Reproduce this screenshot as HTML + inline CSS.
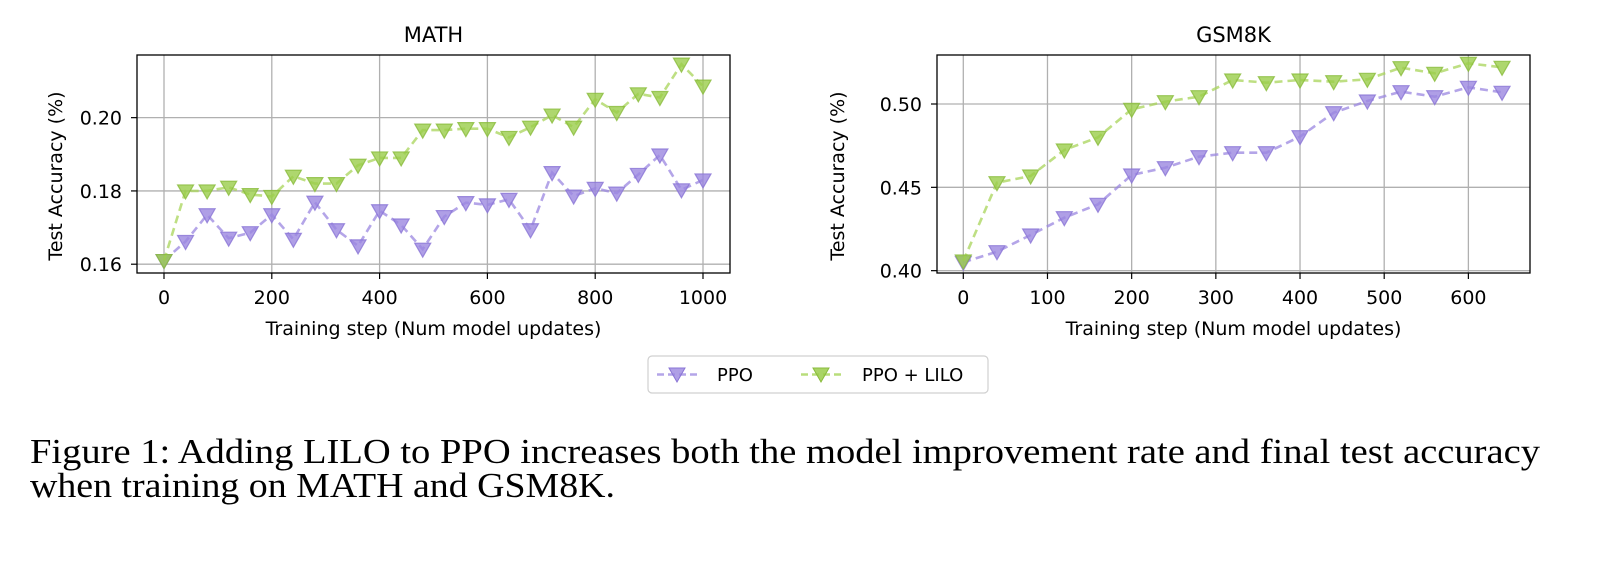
<!DOCTYPE html>
<html><head><meta charset="utf-8"><style>
html,body{margin:0;padding:0;background:#fff;}
svg{display:block;}
</style></head><body>
<svg id="fig" width="1600" height="562" viewBox="0 0 1600 562" xmlns="http://www.w3.org/2000/svg">
<g id="chart-math"></g>
<g id="chart-gsm"></g>
<g>
<rect x="648" y="356" width="340" height="37" rx="4" fill="#fff" stroke="#d0d0d0" stroke-width="1.2"/>
<g>
<line x1="657" y1="374.5" x2="697" y2="374.5" stroke="#9b87e0" stroke-opacity="0.75" stroke-width="2.5" stroke-dasharray="7,4"/>
<path d="M669,368 L685,368 L677,382 Z" fill="#9b87e0" fill-opacity="0.8" stroke="#8a74d6"/>
<text x="717" y="381" font-family="DejaVu Sans, Liberation Sans, sans-serif" font-size="18">PPO</text>
</g>
<g>
<line x1="801" y1="374.5" x2="841" y2="374.5" stroke="#a8d45a" stroke-opacity="0.8" stroke-width="2.5" stroke-dasharray="7,4"/>
<path d="M813,368 L829,368 L821,382 Z" fill="#9acd4a" fill-opacity="0.85" stroke="#8abb3c"/>
<text x="862" y="381" font-family="DejaVu Sans, Liberation Sans, sans-serif" font-size="18">PPO + LILO</text>
</g>
</g>
<g style="font-family:'Liberation Serif', serif" font-size="35">
<text x="30" y="463" textLength="1510" lengthAdjust="spacingAndGlyphs">Figure 1: Adding LILO to PPO increases both the model improvement rate and final test accuracy</text>
<text x="30" y="497" textLength="585" lengthAdjust="spacingAndGlyphs">when training on MATH and GSM8K.</text>
</g>
</svg>
<script>
const NS="http://www.w3.org/2000/svg";
// MATH data
const mathSteps=[0,40,80,120,160,200,240,280,320,360,400,440,480,520,560,600,640,680,720,760,800,840,880,920,960,1000];
const mathPPO=[0.161,0.1662,0.1735,0.1671,0.1686,0.1735,0.1668,0.1769,0.1694,0.165,0.1746,0.1707,0.1641,0.173,0.1768,0.1762,0.1777,0.1694,0.185,0.1786,0.1807,0.1794,0.1845,0.1898,0.1803,0.183];
const mathLILO=[0.161,0.180,0.180,0.181,0.179,0.1785,0.184,0.182,0.182,0.187,0.189,0.189,0.1966,0.1966,0.197,0.197,0.1946,0.1974,0.2007,0.1974,0.205,0.2014,0.2065,0.2055,0.2146,0.2086];
const mathXTicks=[0,200,400,600,800,1000];
const mathYTicks=[0.16,0.18,0.20];
// GSM8K data
const gsmSteps=[0,40,80,120,160,200,240,280,320,360,400,440,480,520,560,600,640];
const gsmPPO=[0.405,0.4114,0.4214,0.4318,0.4398,0.4574,0.4618,0.4684,0.4708,0.4708,0.4804,0.4948,0.5018,0.5074,0.5044,0.510,0.507];
const gsmLILO=[0.4058,0.4528,0.4568,0.4724,0.480,0.4968,0.5014,0.5044,0.5144,0.5128,0.5144,0.5134,0.5148,0.5218,0.5184,0.5244,0.522];
const gsmXTicks=[0,100,200,300,400,500,600];
const gsmYTicks=[0.40,0.45,0.50];

function el(tag,attrs,parent){const e=document.createElementNS(NS,tag);for(const k in attrs)e.setAttribute(k,attrs[k]);parent.appendChild(e);return e;}
const FONT="DejaVu Sans, Liberation Sans, sans-serif";

function drawChart(g,o){
  const X=v=>o.left+(v-o.xmin)/(o.xmax-o.xmin)*(o.right-o.left);
  const Y=v=>o.bottom-(v-o.ymin)/(o.ymax-o.ymin)*(o.bottom-o.top);
  o.xticks.forEach(t=>{
    const l=el('line',{x1:X(t),x2:X(t),y1:o.top,y2:o.bottom,stroke:'#b0b0b0','stroke-width':1.3},g);
    
    
    el('line',{x1:X(t),x2:X(t),y1:o.bottom,y2:o.bottom+6,stroke:'#000','stroke-width':1.2},g);
    const tx=el('text',{x:X(t),y:o.bottom+31,'text-anchor':'middle','font-family':FONT,'font-size':19},g);
    tx.textContent=String(t);
    
    
  });
  o.yticks.forEach(t=>{
    const l=el('line',{x1:o.left,x2:o.right,y1:Y(t),y2:Y(t),stroke:'#b0b0b0','stroke-width':1.3},g);
    
    
    el('line',{x1:o.left-6,x2:o.left,y1:Y(t),y2:Y(t),stroke:'#000','stroke-width':1.2},g);
    const tx=el('text',{x:o.left-15,y:Y(t)+7,'text-anchor':'end','font-family':FONT,'font-size':19},g);
    tx.textContent=t.toFixed(2);
    
    
  });
  function series(xs,ys,line,fill,edge,name){
    const sg=el('g',{},g);
    
    
    const pts=xs.map((x,i)=>X(x)+','+Y(ys[i])).join(' ');
    el('polyline',{points:pts,fill:'none',stroke:line,'stroke-opacity':0.75,'stroke-width':2.6,'stroke-dasharray':'8,5'},sg);
    xs.forEach((x,i)=>{
      const cx=X(x),cy=Y(ys[i]);
      const m=el('path',{d:`M${cx-8},${cy-6} L${cx+8},${cy-6} L${cx},${cy+8} Z`,fill:fill,'fill-opacity':0.8,stroke:edge,'stroke-opacity':0.8,'stroke-width':1.2},sg);
      
      
    });
  }
  series(o.xs,o.ppo,'#9b87e0','#9b87e0','#8a74d6','ppo-series');
  series(o.xs,o.lilo,'#a8d45a','#9acd4a','#8abb3c','ppo-lilo-series');
  const fr=el('rect',{x:o.left,y:o.top,width:o.right-o.left,height:o.bottom-o.top,fill:'none',stroke:'#000','stroke-width':1.3},g);
  
  
  const ti=el('text',{x:(o.left+o.right)/2,y:o.top-13,'text-anchor':'middle','font-family':FONT,'font-size':21},g);
  ti.textContent=o.title;
  
  
  const xl=el('text',{x:(o.left+o.right)/2,y:o.bottom+62,'text-anchor':'middle','font-family':FONT,'font-size':19},g);
  xl.textContent='Training step (Num model updates)';
  
  
  const yc=(o.top+o.bottom)/2+12;
  const yl=el('text',{x:o.ylabelX,y:yc,'text-anchor':'middle','font-family':FONT,'font-size':19,transform:`rotate(-90 ${o.ylabelX} ${yc})`},g);
  yl.textContent='Test Accuracy (%)';
  
  
}
drawChart(document.getElementById('chart-math'),{left:137,right:730,top:55,bottom:273,
  xmin:(137-164)/0.539,xmax:(730-164)/0.539,ymin:0.1576,ymax:0.2171,
  xs:mathSteps,ppo:mathPPO,lilo:mathLILO,xticks:mathXTicks,yticks:mathYTicks,title:'MATH',ylabelX:62});
drawChart(document.getElementById('chart-gsm'),{left:937,right:1530,top:55,bottom:273,
  xmin:(937-963.3)/0.8418,xmax:(1530-963.3)/0.8418,ymin:0.3986,ymax:0.5294,
  xs:gsmSteps,ppo:gsmPPO,lilo:gsmLILO,xticks:gsmXTicks,yticks:gsmYTicks,title:'GSM8K',ylabelX:844});
</script>
</body></html>
